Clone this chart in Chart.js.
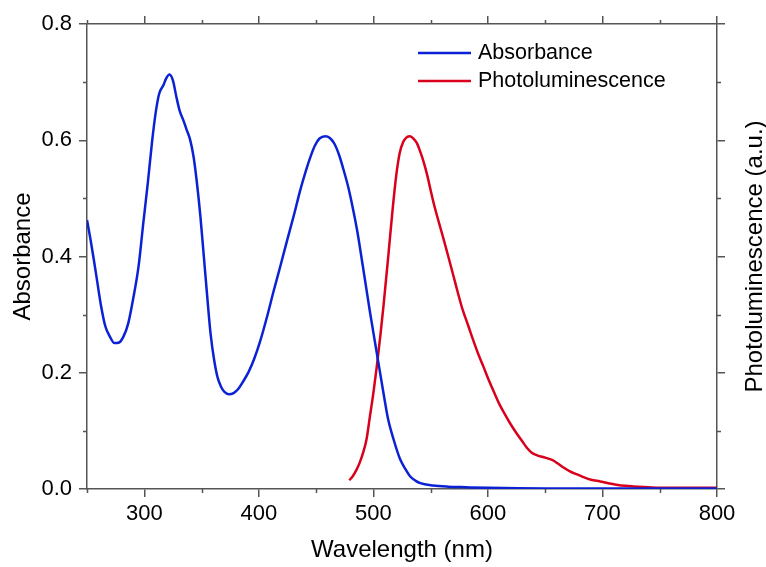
<!DOCTYPE html>
<html>
<head>
<meta charset="utf-8">
<title>Absorbance and photoluminescence spectra</title>
<script src="https://cdn.jsdelivr.net/npm/chart.js@4.4.0/dist/chart.umd.min.js"></script>
<style>
  html, body { margin: 0; padding: 0; background: #fff; }
</style>
</head>
<body>
<canvas id="spectra" width="766" height="567"></canvas>
<script>
// Absorbance spectrum (left axis)
var absWl  = [250, 253, 256, 259, 262, 266, 270, 274, 278, 282, 286, 290, 295, 299, 303, 307, 310, 313, 317, 319, 322, 325, 328, 331, 334, 337, 340, 343, 346, 349, 352, 355, 358, 361, 364, 367, 370, 374, 378, 382, 386, 391, 396, 401, 407, 413, 419, 425, 431, 436, 441, 445, 449, 453, 458, 462, 466, 470, 474, 478, 482, 486, 491, 497, 503, 509, 513, 518, 523, 528, 532, 537, 541, 552, 565, 581, 600, 650, 700, 750, 800];
var absVal = [0.463, 0.430, 0.394, 0.356, 0.318, 0.280, 0.262, 0.251, 0.252, 0.263, 0.285, 0.324, 0.383, 0.455, 0.525, 0.601, 0.648, 0.680, 0.696, 0.706, 0.713, 0.703, 0.675, 0.650, 0.635, 0.618, 0.601, 0.572, 0.526, 0.469, 0.400, 0.330, 0.265, 0.222, 0.192, 0.176, 0.167, 0.163, 0.165, 0.172, 0.184, 0.201, 0.224, 0.253, 0.295, 0.341, 0.385, 0.430, 0.474, 0.513, 0.547, 0.571, 0.591, 0.603, 0.607, 0.604, 0.594, 0.575, 0.549, 0.520, 0.484, 0.443, 0.381, 0.305, 0.234, 0.163, 0.119, 0.083, 0.053, 0.034, 0.022, 0.014, 0.010, 0.006, 0.004, 0.003, 0.002, 0.001, 0.001, 0.001, 0.001];

// Photoluminescence spectrum (right axis, a.u.)
var plWl  = [479, 482, 485, 488, 491, 494, 497, 500, 503, 506, 509, 513, 517, 520, 523, 526, 529, 532, 535, 538, 541, 544, 547, 550, 553, 557, 561, 565, 570, 574, 578, 583, 587, 592, 596, 600, 605, 610, 615, 620, 625, 630, 634, 638, 643, 650, 656, 661, 666, 672, 678, 684, 690, 698, 705, 712, 720, 727, 740, 750, 770, 800];
var plVal = [0.015, 0.022, 0.032, 0.045, 0.062, 0.085, 0.125, 0.165, 0.211, 0.262, 0.318, 0.400, 0.485, 0.540, 0.578, 0.597, 0.605, 0.607, 0.603, 0.595, 0.580, 0.562, 0.540, 0.514, 0.489, 0.460, 0.432, 0.403, 0.366, 0.336, 0.308, 0.280, 0.257, 0.230, 0.211, 0.191, 0.168, 0.146, 0.128, 0.111, 0.096, 0.082, 0.071, 0.063, 0.058, 0.054, 0.050, 0.044, 0.037, 0.030, 0.025, 0.020, 0.016, 0.013, 0.010, 0.0075, 0.0055, 0.0045, 0.003, 0.002, 0.002, 0.002];

// Ticks
var xMajor = [300, 400, 500, 600, 700, 800];
var xMinor = [250, 350, 450, 550, 650, 750];
var yMajor = [0.0, 0.2, 0.4, 0.6, 0.8];
var yMinor = [0.1, 0.3, 0.5, 0.7];

var seriesNames = ['Absorbance', 'Photoluminescence'];
var rightTitle = 'Photoluminescence (a.u.)';

var axisColor = '#555555';
var blue = '#0b22d4';
var red = '#d8001c';
var fontFamily = '"Liberation Sans", Arial, sans-serif';

function toPoints(xs, ys) {
    return xs.map(function (x, i) { return {x: x, y: ys[i]}; });
}

// minor tick marks on all four sides, through each scale's own pixel mapping
var minorTicks = {
    id: 'minorTicks',
    afterDraw: function (chart, args, opts) {
        var ctx = chart.ctx, s = chart.scales;
        ctx.save();
        ctx.strokeStyle = opts.color;
        ctx.lineWidth = opts.width;
        ctx.beginPath();
        xMinor.forEach(function (v) {
            var px = Math.round(s.x.getPixelForValue(v)) + 0.5;
            ctx.moveTo(px, s.x.top); ctx.lineTo(px, s.x.top + opts.length);
            ctx.moveTo(px, s.x2.bottom); ctx.lineTo(px, s.x2.bottom - opts.length);
        });
        yMinor.forEach(function (v) {
            var py = Math.round(s.y.getPixelForValue(v)) + 0.5;
            ctx.moveTo(s.y.right, py); ctx.lineTo(s.y.right - opts.length, py);
            ctx.moveTo(s.y2.left, py); ctx.lineTo(s.y2.left + opts.length, py);
        });
        ctx.stroke();
        ctx.restore();
    }
};

// right axis title, reading bottom to top like the left one
var sideTitle = {
    id: 'sideTitle',
    afterDraw: function (chart, args, opts) {
        var ctx = chart.ctx, s = chart.scales.y2;
        ctx.save();
        ctx.translate(s.right - opts.offset, (s.top + s.bottom) / 2);
        ctx.rotate(-Math.PI / 2);
        ctx.font = opts.font;
        ctx.fillStyle = '#000';
        ctx.textAlign = 'center';
        ctx.textBaseline = 'middle';
        ctx.fillText(opts.text, 0, 0);
        ctx.restore();
    }
};

// legend drawn inside the plot, short line + label per dataset
var lineLegend = {
    id: 'lineLegend',
    afterDraw: function (chart, args, opts) {
        var ctx = chart.ctx;
        ctx.save();
        ctx.font = opts.font;
        ctx.textBaseline = 'middle';
        ctx.textAlign = 'left';
        chart.data.datasets.forEach(function (ds, i) {
            var y = opts.y + i * opts.rowGap;
            ctx.strokeStyle = ds.borderColor;
            ctx.lineWidth = ds.borderWidth;
            ctx.beginPath();
            ctx.moveTo(opts.x, y);
            ctx.lineTo(opts.x + opts.lineLen, y);
            ctx.stroke();
            ctx.fillStyle = '#000';
            ctx.fillText(ds.label, opts.x + opts.lineLen + opts.gap, y);
        });
        ctx.restore();
    }
};

function setTicks(values) {
    return function (scale) {
        scale.ticks = values.map(function (v) { return {value: v}; });
    };
}

var tickFont = {family: fontFamily, size: 22};
var titleFont = {family: fontFamily, size: 24};
var gridOpts = {drawOnChartArea: false, color: axisColor, lineWidth: 1.5, tickLength: 8};
var borderOpts = {color: axisColor, width: 1.5};

new Chart(document.getElementById('spectra'), {
    type: 'line',
    data: {
        datasets: [{
            label: seriesNames[0],
            data: toPoints(absWl, absVal),
            borderColor: blue,
            borderWidth: 2.5,
            pointRadius: 0,
            cubicInterpolationMode: 'monotone',
            xAxisID: 'x',
            yAxisID: 'y'
        }, {
            label: seriesNames[1],
            data: toPoints(plWl, plVal),
            borderColor: red,
            borderWidth: 2.5,
            pointRadius: 0,
            cubicInterpolationMode: 'monotone',
            xAxisID: 'x',
            yAxisID: 'y2'
        }]
    },
    options: {
        responsive: false,
        animation: false,
        devicePixelRatio: 1,
        layout: {padding: 0},
        plugins: {
            legend: {display: false},
            tooltip: {enabled: false},
            minorTicks: {color: axisColor, width: 1.5, length: 4},
            sideTitle: {text: rightTitle, offset: 11, font: '24px ' + fontFamily},
            lineLegend: {x: 418, y: 53, rowGap: 28, lineLen: 53, gap: 7, font: '21.5px ' + fontFamily}
        },
        scales: {
            x: {
                type: 'linear', position: 'bottom', min: 250, max: 800,
                afterBuildTicks: setTicks(xMajor),
                afterFit: function (s) { s.height = 78; },
                ticks: {font: tickFont, color: '#000', padding: 4, maxRotation: 0},
                grid: gridOpts, border: borderOpts,
                title: {display: true, text: 'Wavelength (nm)', font: titleFont, color: '#000', padding: {top: 0, bottom: 2}}
            },
            x2: {
                type: 'linear', position: 'top', min: 250, max: 800,
                afterBuildTicks: setTicks(xMajor),
                afterFit: function (s) { s.height = 24; },
                ticks: {display: false},
                grid: gridOpts, border: borderOpts
            },
            y: {
                type: 'linear', position: 'left', min: 0, max: 0.8,
                afterBuildTicks: setTicks(yMajor),
                afterFit: function (s) { s.width = 87; },
                ticks: {font: tickFont, color: '#000', padding: 7, callback: function (v) { return v.toFixed(1); }},
                grid: gridOpts, border: borderOpts,
                title: {display: true, text: 'Absorbance', font: titleFont, color: '#000', padding: {top: 9, bottom: 0}}
            },
            y2: {
                type: 'linear', position: 'right', min: 0, max: 0.8,
                afterBuildTicks: setTicks(yMajor),
                afterFit: function (s) { s.width = 49; },
                ticks: {display: false},
                grid: gridOpts, border: borderOpts
            }
        }
    },
    plugins: [minorTicks, sideTitle, lineLegend]
});
</script>
</body>
</html>
